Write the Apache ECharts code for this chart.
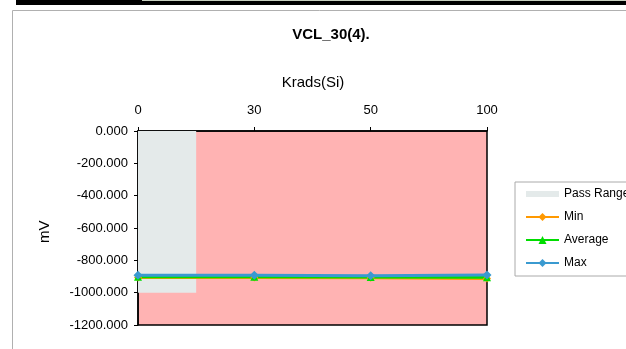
<!DOCTYPE html>
<html><head><meta charset="utf-8">
<script src="https://cdn.jsdelivr.net/npm/echarts@6/dist/echarts.min.js"></script>
<style>html,body{margin:0;padding:0;background:#fff}#c{width:626px;height:349px}</style>
</head><body><div id="c"></div>
<script>
const categories = ['0', '30', '50', '100'];
const minValues = [-906, -906, -908, -912];
const avgValues = [-902, -902, -903, -904];
const maxValues = [-893, -893, -896, -890];
const passRangeX = [0, 0.5];
const passRangeY = [-1000, 0];
const yTicks = [0, -200, -400, -600, -800, -1000, -1200];

const toPts = arr => arr.map((v, i) => [i, v]);
const chart = echarts.init(document.getElementById('c'));
const font = 'Liberation Sans, Arial, sans-serif';
chart.setOption({
  animation: false,
  textStyle: { fontFamily: font },
  graphic: [
    { type: 'rect', shape: { x: 16, y: 0, width: 610, height: 5 }, style: { fill: '#000' }, z: 10 },
    { type: 'rect', shape: { x: 142, y: 0, width: 484, height: 1 }, style: { fill: '#c8d0c0' }, z: 11 },
    { type: 'polyline', shape: { points: [[12.5, 349], [12.5, 10.5], [626, 10.5]] }, style: { stroke: '#b0b0b0', fill: null, lineWidth: 1 } },
    { type: 'text', x: 331, y: 27, style: { text: 'VCL_30(4).', font: 'bold 15px ' + font, fill: '#000', align: 'center' } },
    { type: 'text', x: 313, y: 75, style: { text: 'Krads(Si)', font: '15px ' + font, fill: '#000', align: 'center' } },
    { type: 'text', x: 37, y: 243, rotation: Math.PI / 2, style: { text: 'mV', font: '15px ' + font, fill: '#000' } }
  ],
  grid: { left: 138, top: 131, width: 349, height: 194, show: true, backgroundColor: '#FFB3B3', borderColor: '#000', borderWidth: 1.5 },
  legend: {
    orient: 'vertical', left: 515, top: 182, itemGap: 11, itemWidth: 33, itemHeight: 10,
    borderColor: '#aaa', borderWidth: 1, padding: [6, 20, 7, 10], borderRadius: 0,
    textStyle: { fontSize: 12, color: '#000', fontFamily: font },
    data: [
      { name: 'Pass Range', icon: 'path://M0,0L33,0L33,6L0,6Z' },
      'Min', 'Average', 'Max'
    ]
  },
  xAxis: {
    type: 'value', position: 'top', min: 0, max: 3, interval: 1,
    axisLine: { show: true, lineStyle: { color: '#000', width: 1.5 } },
    axisTick: { show: true, length: 4, lineStyle: { color: '#000' } },
    splitLine: { show: false },
    axisLabel: { color: '#000', fontSize: 13, margin: 14, formatter: v => categories[v] ?? '' }
  },
  yAxis: {
    type: 'value', min: -1200, max: 0, interval: 200,
    axisLine: { show: true, lineStyle: { color: '#000', width: 1.5 } },
    axisTick: { show: true, length: 4, lineStyle: { color: '#000' } },
    splitLine: { show: false },
    axisLabel: { color: '#000', fontSize: 13, margin: 10, formatter: v => v.toFixed(3) }
  },
  series: [
    { name: 'Pass Range', type: 'line', data: [], itemStyle: { color: '#E4EAEA' }, lineStyle: { color: '#E4EAEA' },
      markArea: { silent: true, itemStyle: { color: '#E4EAEA' },
        data: [[{ coord: [passRangeX[0], passRangeY[0]] }, { coord: [passRangeX[1], passRangeY[1]] }]] } },
    { name: 'Min', type: 'line', data: toPts(minValues), symbol: 'diamond', symbolSize: 8,
      itemStyle: { color: '#FF9900' }, lineStyle: { color: '#FF9900', width: 3 } },
    { name: 'Average', type: 'line', data: toPts(avgValues), symbol: 'triangle', symbolSize: 8,
      itemStyle: { color: '#00DD00' }, lineStyle: { color: '#00DD00', width: 3 } },
    { name: 'Max', type: 'line', data: toPts(maxValues), symbol: 'diamond', symbolSize: 9,
      itemStyle: { color: '#3A9AD0' }, lineStyle: { color: '#3A9AD0', width: 3 } }
  ]
});
</script></body></html>
